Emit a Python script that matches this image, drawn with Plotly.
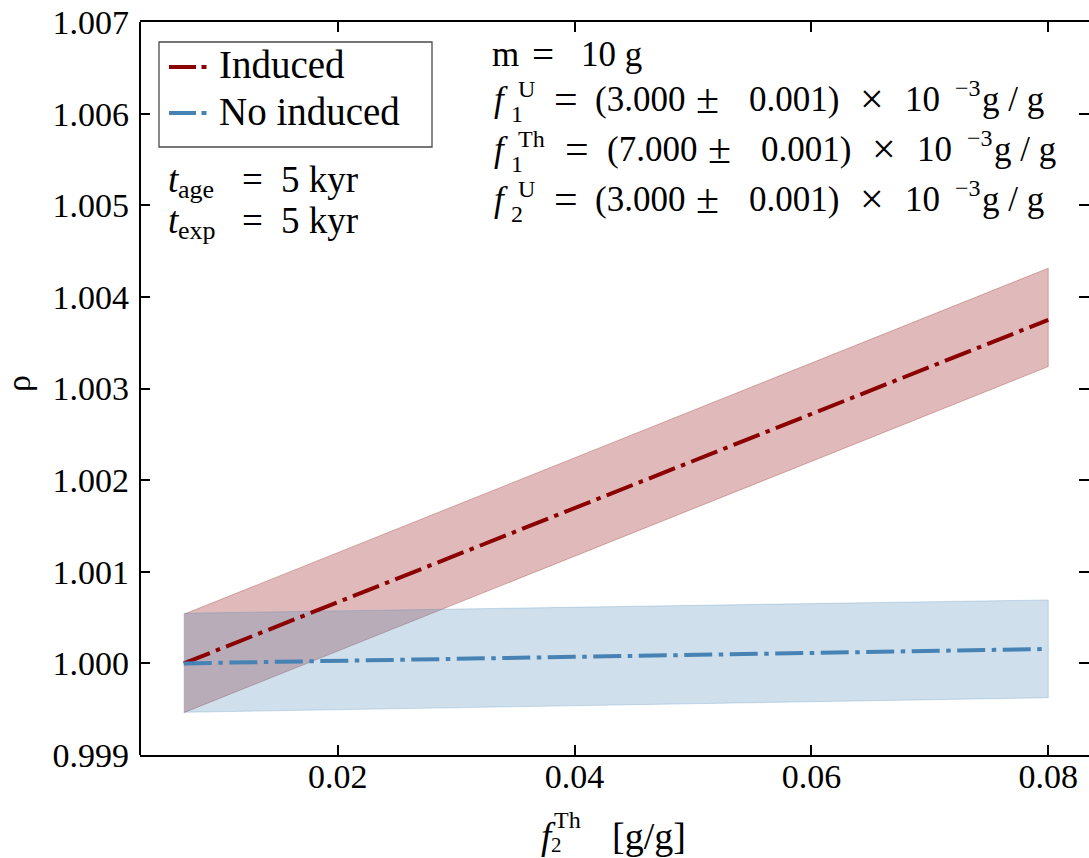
import plotly.graph_objects as go

# ---- data -------------------------------------------------------------
f2_th = [0.007, 0.08]                       # f_2^Th [g/g]

rho_induced = [1.00000, 1.003749]
rho_induced_lo = [0.999462, 1.003239]
rho_induced_hi = [1.000536, 1.004313]

rho_no_induced = [1.00000, 1.000157]
rho_no_induced_lo = [0.999466, 0.999625]
rho_no_induced_hi = [1.000547, 1.000692]

x_ticks = [0.02, 0.04, 0.06, 0.08]
y_ticks = [0.999, 1.000, 1.001, 1.002, 1.003, 1.004, 1.005, 1.006, 1.007]

# ---- styling ------------------------------------------------------------
W, H = 1089, 858
ML, MR, MT, MB = 140, 0, 22, 103
PW, PH = W - ML - MR, H - MT - MB
SERIF = "Liberation Serif"
RED, BLUE = "#8b0000", "#4682b4"
RED_FILL, BLUE_FILL = "rgba(139,0,0,0.27)", "rgba(70,130,180,0.26)"
DASHDOT = "28px,6.5px,4.5px,6.5px"


def px(x):
    return (x - ML) / PW


def py(y):
    return (MT + PH - y) / PH


def band(x, lo, hi):
    return list(x) + list(x[::-1]), list(hi) + list(lo[::-1])


fig = go.Figure()

bx, by = band(f2_th, rho_induced_lo, rho_induced_hi)
fig.add_trace(go.Scatter(x=bx, y=by, fill="toself", fillcolor=RED_FILL,
                         line=dict(color=RED_FILL, width=1), mode="lines",
                         hoverinfo="skip", showlegend=False))
bx, by = band(f2_th, rho_no_induced_lo, rho_no_induced_hi)
fig.add_trace(go.Scatter(x=bx, y=by, fill="toself", fillcolor=BLUE_FILL,
                         line=dict(color=BLUE_FILL, width=1), mode="lines",
                         hoverinfo="skip", showlegend=False))
fig.add_trace(go.Scatter(x=f2_th, y=rho_induced, mode="lines", name="Induced",
                         line=dict(color=RED, width=4, dash=DASHDOT),
                         showlegend=False))
fig.add_trace(go.Scatter(x=f2_th, y=rho_no_induced, mode="lines", name="No induced",
                         line=dict(color=BLUE, width=4, dash=DASHDOT),
                         showlegend=False))

annotations = []


def text(s, x, baseline, size, italic=False, anchor="left"):
    # place a text run by its left edge (or centre) and baseline, in pixels
    annotations.append(dict(
        text=f"<i>{s}</i>" if italic else s,
        x=px(x), y=py(baseline - 0.3375 * size),
        xref="paper", yref="paper", xanchor=anchor, yanchor="middle",
        showarrow=False, borderpad=0,
        font=dict(family=SERIF, size=size, color="black")))


def op(s, xc, baseline, size, widen=1.2):
    # binary operators / relations are set a little wider, math style
    text(s, xc, baseline + 0.3 * (widen - 1) * size, size * widen, anchor="center")


# legend box
shapes = [dict(type="rect", xref="paper", yref="paper",
               x0=px(159), x1=px(432), y0=py(147), y1=py(42),
               line=dict(color="#4a4a4a", width=1.3), fillcolor="white")]
for yy, c in ((67, RED), (113, BLUE)):
    shapes.append(dict(type="line", xref="paper", yref="paper",
                       x0=px(169), x1=px(207), y0=py(yy), y1=py(yy),
                       line=dict(color=c, width=4, dash="27px,5.5px,5px,20px")))
# left spine (the right one falls outside the page)
shapes.append(dict(type="line", xref="paper", yref="paper",
                   x0=0, x1=0, y0=0, y1=1, line=dict(color="black", width=2)))

text("Induced", 218, 78, 39)
text("No induced", 218, 125, 39)

# exposure / age
MAIN, SCR = 37, 26
text("t", 167, 192, MAIN, italic=True)
text("age", 177, 198, SCR)
op("=", 252, 192, MAIN, widen=1.0)
text("5 kyr", 280, 192, MAIN)
text("t", 167, 233, MAIN, italic=True)
text("exp", 177, 239, SCR)
op("=", 252, 233, MAIN, widen=1.0)
text("5 kyr", 280, 233, MAIN)

# sample parameters
S, s = 35, 24
text("m", 491, 66, S)
op("=", 543, 66, S, widen=1.12)
text("10 g", 580, 66, S)


def frac_line(base, sup, sub, eq_c, val, shift):
    text("f", 493, base, S, italic=True)
    text(sup, 517, base - 14, s)
    text(sub, 510, base + 11, s)
    op("=", eq_c, base, S)
    text("(" + val, 640 + shift, base, S, anchor="center")
    op("±", 707 + shift, base, S)
    text("0.001)", 794 + shift, base, S, anchor="center")
    op("×", 872 + shift, base, S)
    text("10", 922 + shift, base, S, anchor="center")
    text("−3", 954 + shift, base - 15, s)
    text("g / g", 1013 + shift, base, S, anchor="center")


frac_line(111, "U", "1", 566, "3.000", 0)
frac_line(161, "Th", "1", 577, "7.000", 12)
frac_line(211, "U", "2", 566, "3.000", 0)

# axis titles
text("f", 540, 849, 37, italic=True)
text("Th", 553, 828, 24)
text("2", 550, 852, 21)
text("[g/g]", 611, 849, 38)
annotations.append(dict(text="ρ", x=px(19), y=py(384), xref="paper", yref="paper",
                        xanchor="center", yanchor="middle", textangle=-90,
                        showarrow=False, borderpad=0,
                        font=dict(family=SERIF, size=34, color="black")))

axis_common = dict(
    showgrid=False, zeroline=False, linecolor="black",
    linewidth=2, mirror="ticks", ticks="inside", ticklen=10, tickwidth=1.6,
    tickcolor="black", tickfont=dict(family=SERIF, size=34, color="black"),
)

fig.update_layout(
    width=W, height=H, autosize=False,
    margin=dict(l=ML, r=MR, t=MT, b=MB, pad=0),
    paper_bgcolor="white", plot_bgcolor="white",
    xaxis=dict(range=[0.0033, 0.08344], tickvals=x_ticks, showline=True,
               ticktext=[f"{v:.2f}" for v in x_ticks], ticklabelstandoff=-10,
               **axis_common),
    yaxis=dict(range=[0.999, 1.007], tickvals=y_ticks, showline=False,
               ticktext=[f"{v:.3f}" for v in y_ticks], ticklabelstandoff=10,
               **axis_common),
    shapes=shapes,
    annotations=annotations,
)

fig.write_html("out.html")
